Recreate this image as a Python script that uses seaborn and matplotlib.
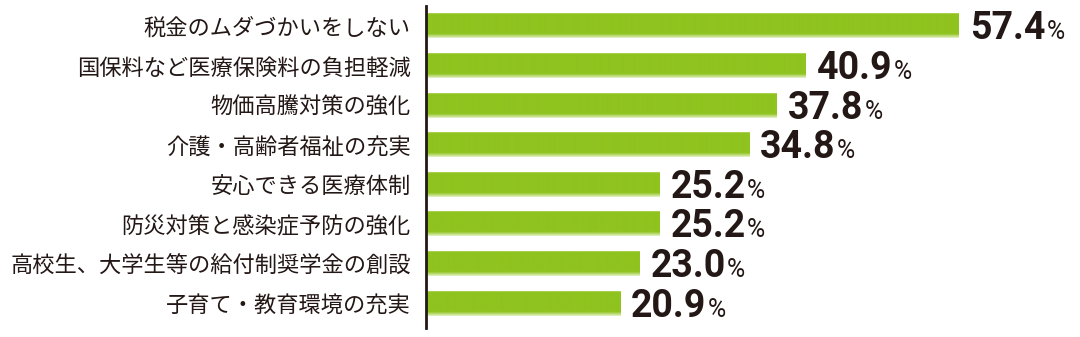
import numpy as np
import pandas as pd
import matplotlib
matplotlib.use("Agg")
import matplotlib.pyplot as plt
import seaborn as sns
from matplotlib.colors import to_rgb

# Survey items and their shares (%)
items = [
    "税金のムダづかいをしない",
    "国保料など医療保険料の負担軽減",
    "物価高騰対策の強化",
    "介護・高齢者福祉の充実",
    "安心できる医療体制",
    "防災対策と感染症予防の強化",
    "高校生、大学生等の給付制奨学金の創設",
    "子育て・教育環境の充実",
]
shares = [57.4, 40.9, 37.8, 34.8, 25.2, 25.2, 23.0, 20.9]

BAR_GREEN = "#8fc31f"
INK = "#231815"

sns.set_theme(style="white")
plt.rcParams["font.family"] = ["Noto Sans CJK JP", "DejaVu Sans"]

df = pd.DataFrame({"item": items, "share": shares})

fig = plt.figure(figsize=(10.8, 3.37), dpi=100)
ax = fig.add_axes([426 / 1080, 9 / 337, 650 / 1080, 322 / 337])

sns.barplot(data=df, x="share", y="item", orient="h", color=BAR_GREEN,
            width=0.63, saturation=1, ax=ax, linewidth=0)

# Vertical shading on each bar: a light top edge and a soft fade at the bottom
base = np.array(to_rgb(BAR_GREEN))
top = np.array(to_rgb("#b3d760"))
pale = np.array(to_rgb("#e6f2c8"))
n = 100
grad = np.tile(base, (n, 1))
grad[:3] = top
fade = np.linspace(0, 1, 18)[:, None]
grad[n - 18:] = base * (1 - fade) + pale * fade
grad = grad[:, None, :]

for patch in ax.patches:
    x0, y0 = patch.get_x(), patch.get_y()
    w, h = patch.get_width(), patch.get_height()
    im = ax.imshow(grad, extent=(x0, x0 + w, y0 + h, y0), aspect="auto",
                   interpolation="bilinear", zorder=patch.get_zorder() + 0.1)
    im.set_clip_path(patch)

ax.set_xlim(0, 70)
ax.set_ylim(7.625, -0.5)

ax.set_xlabel("")
ax.set_ylabel("")
ax.set_xticks([])
ax.tick_params(axis="y", length=0, pad=11, labelsize=16, labelcolor=INK)
for lbl in ax.get_yticklabels():
    lbl.set_color(INK)

for side in ["top", "right", "bottom"]:
    ax.spines[side].set_visible(False)
ax.spines["left"].set_color(INK)
ax.spines["left"].set_linewidth(2)
ax.spines["left"].set_zorder(5)

# Value labels: bold number followed by a smaller percent sign on the same baseline
fig.canvas.draw()
renderer = fig.canvas.get_renderer()
W, H = fig.bbox.width, fig.bbox.height
for i, v in enumerate(shares):
    xd, yd = ax.transData.transform((v, i))
    base_y = yd - 13.5
    t = fig.text((xd + 11) / W, base_y / H, f"{v:.1f}", ha="left",
                 va="baseline", fontsize=27, fontweight="bold", color=INK,
                 family=["Roboto", "DejaVu Sans"])
    bb = t.get_window_extent(renderer)
    fig.text((bb.x1 + 1) / W, base_y / H, "%", ha="left", va="baseline",
             fontsize=18, fontweight="normal", color=INK,
             family=["Roboto", "DejaVu Sans"])

fig.savefig("out.png", dpi=100, facecolor="white")
